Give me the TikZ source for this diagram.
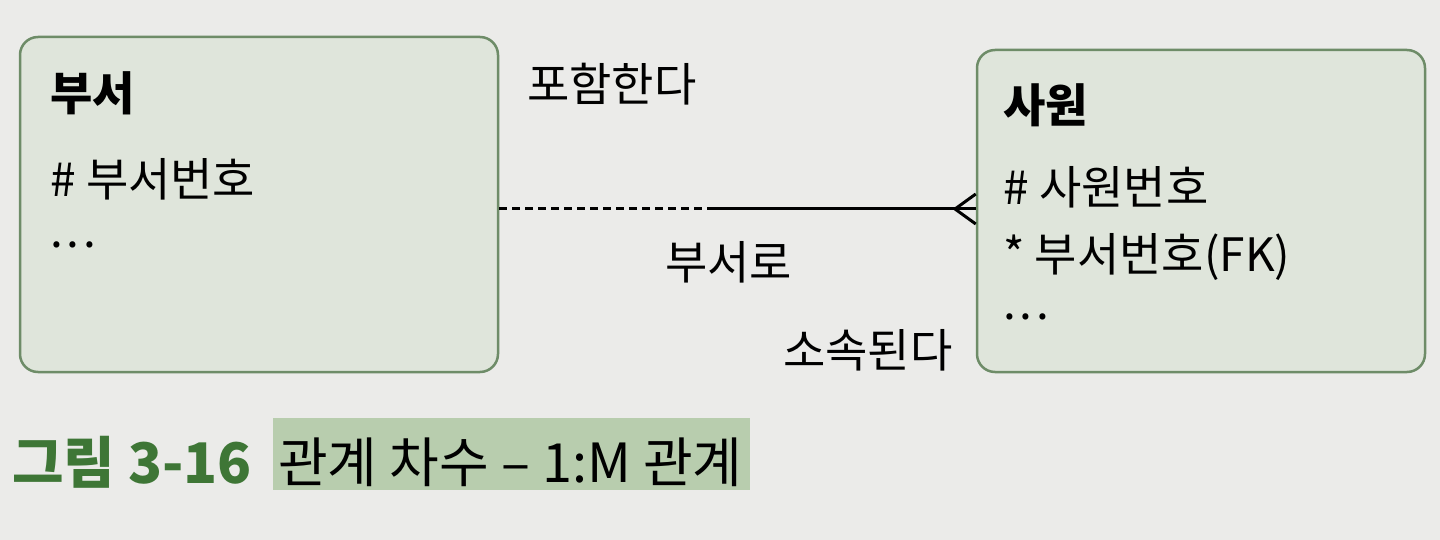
\documentclass[tikz,border=0pt]{standalone}
\usepackage{fontspec}
\setmainfont{Noto Sans CJK KR}
\usepackage{tikz}
\usetikzlibrary{calc}

\definecolor{paper}{HTML}{EBEBE9}
\definecolor{boxfill}{HTML}{DFE5DB}
\definecolor{boxline}{HTML}{6E8C68}
\definecolor{capgreen}{HTML}{3E7636}
\definecolor{caphl}{HTML}{B8CDAE}

\begin{document}
\begin{tikzpicture}[x=1pt,y=-1pt]
\tikzstyle{every node}+=[inner sep=0pt]
\tikzset{entity/.style={draw=boxline,line width=2.5pt,fill=boxfill,rounded corners=18pt},
  txt/.style={anchor=west,font=\fontsize{46}{54}\selectfont},
  ttl/.style={anchor=west,font=\fontsize{46}{54}\selectfont\bfseries}}
\fill [paper] (0,0) rectangle (1440,540);
\useasboundingbox (0,0) rectangle (1440,540);
% entities
\node [entity,minimum width=478pt,minimum height=335pt] (dept) at (259,204.5) {};
\node [entity,minimum width=448pt,minimum height=322pt] (emp) at (1201,211) {};
\node [ttl] (deptname) at (50,93) {부서};
\node [txt] (deptkey) at (50,179) {\# 부서번호};
\node [txt] (deptetc) at (50,245) {.\hspace{4pt}.\hspace{4pt}.};
\node [ttl] (empname) at (1003,105) {사원};
\node [txt] (empkey) at (1003,187) {\# 사원번호};
\node [txt] (empfk) at (1003,257) {* 부서번호(FK)};
\node [txt] (empetc) at (1003,317) {.\hspace{4pt}.\hspace{4pt}.};
% relationship
\coordinate (mid) at (715,209);
\coordinate (foot) at (955,209);
\draw [black,line width=3pt,dash pattern=on 8pt off 5pt] (dept.east |- mid) -- (mid);
\draw [black,line width=3pt] (mid) -- (emp.west |- mid);
\draw [black,line width=3pt] ($(emp.west |- mid)+(0,-15)$) -- (foot) -- ($(emp.west |- mid)+(0,15)$);
\node [txt] (contains) at (527,84) {포함한다};
\node [txt] (belongs1) at (665,262) {부서로};
\node [txt] (belongs2) at (783,350) {소속된다};
% caption
\fill [caphl] (273,418) rectangle (750,490);
\node [ttl,text=capgreen,font=\fontsize{56}{64}\selectfont\bfseries] (capnum) at (12,462) {그림 3-16};
\node [txt,font=\fontsize{54}{62}\selectfont] (captext) at (278,462) {관계 차수 – 1:M 관계};
\end{tikzpicture}
\end{document}
